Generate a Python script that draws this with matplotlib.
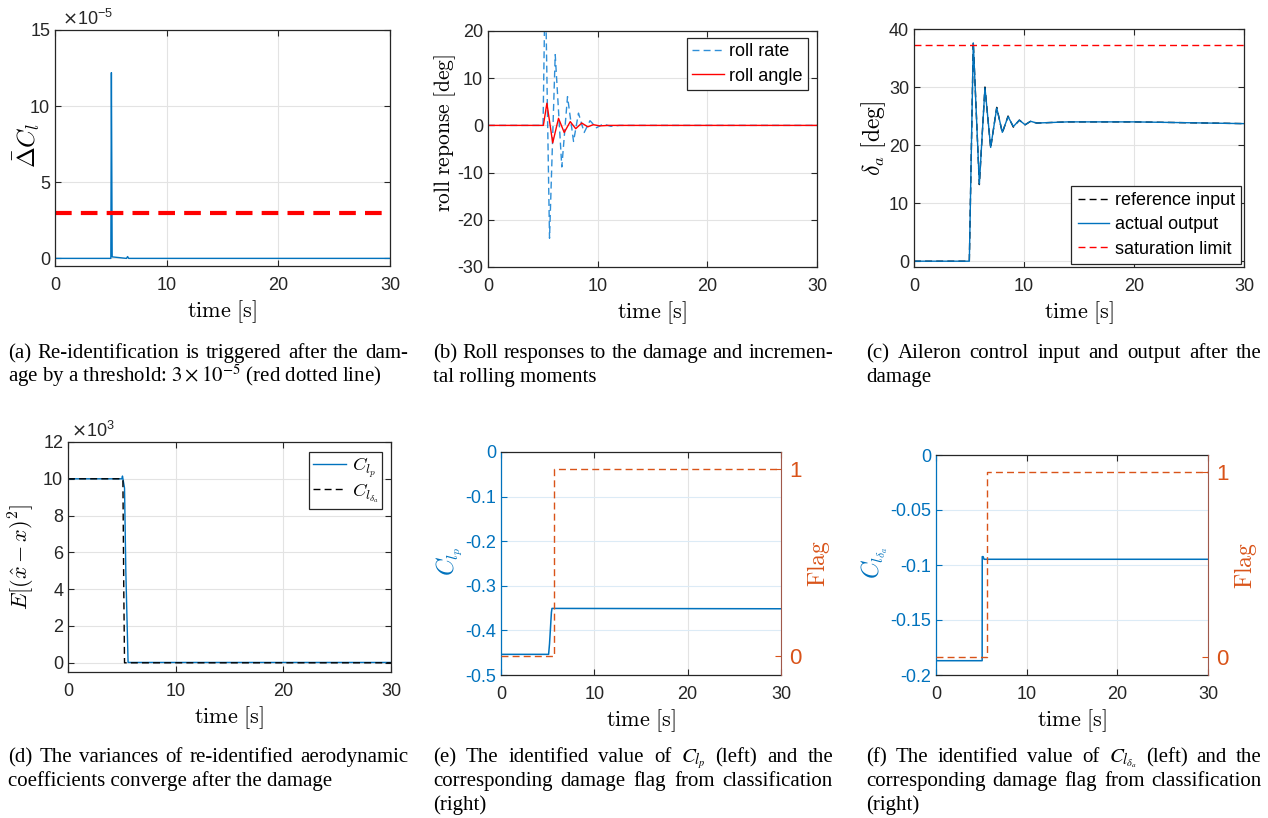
#! /usr/bin/env python3

import numpy as np
import matplotlib
matplotlib.use("Agg")
import matplotlib.pyplot as plt
from matplotlib.ticker import FormatStrFormatter

plt.rcParams['font.family'] = ['Liberation Sans', 'DejaVu Sans']
plt.rcParams['axes.unicode_minus'] = False
plt.rcParams['mathtext.fontset'] = 'cm'

BLUE = '#0072BD'
ORANGE = '#D95319'
EDGE = '#262626'

# (a) rolling moment increment, units of 1e-5
t_dcl = [0, 5.0, 5.05, 5.12, 6.4, 6.5, 6.6, 30]
dcl_e5 = [0, 0, 12.2, 0.1, 0, 0.12, 0, 0]
dcl_threshold_e5 = 3.0

# (b) roll responses [deg]
t_rate = [0, 5.02, 5.22, 5.61, 6.13, 6.73, 7.25, 7.8, 8.25, 8.77, 9.3, 9.9, 10.5, 11.2, 12, 30]
roll_rate = [0, 0, 32, -23.9, 15, -8.8, 6.1, -3.4, 2.6, -1.5, 1.0, -0.5, 0.3, -0.2, 0, 0]
t_angle = [0, 5.05, 5.37, 5.9, 6.43, 6.95, 7.5, 8.0, 8.55, 9.1, 9.6, 10.2, 11, 30]
roll_angle = [0, 0, 4.7, -3.7, 1.5, -1.5, 0.8, -0.7, 0.5, -0.3, 0.15, -0.1, 0, 0]

# (c) aileron deflection [deg]
t_ail = [0, 5.03, 5.39, 5.94, 6.45, 6.97, 7.52, 8.03, 8.55, 9.03, 9.58, 10.1, 10.6, 11.15, 14, 20, 30]
ail_ref = [0, 0, 37.7, 13.2, 30.0, 19.5, 26.5, 22.1, 25.0, 23.1, 24.3, 23.5, 24.1, 23.8, 24.0, 24.0, 23.7]
ail_out = [0, 0, 37.6, 13.3, 29.9, 19.6, 26.4, 22.2, 24.9, 23.2, 24.3, 23.5, 24.1, 23.8, 24.0, 24.0, 23.7]
ail_limit = 37.3

# (d) variances, units of 1e3
t_var_lp = [0, 5.0, 5.06, 5.25, 5.37, 5.58, 30]
var_lp = [10, 10, 10.15, 9.5, 5.0, 0.02, 0.02]
t_var_lda = [0, 5.0, 5.1, 5.18, 5.25, 30]
var_lda = [10, 10, 9.9, 4.0, 0.0, 0.0]

# (e) C_lp and flag
t_clp = [0, 5.1, 5.2, 5.4, 5.46, 30]
clp = [-0.4537, -0.4537, -0.43, -0.36, -0.3507, -0.3515]
t_flag_e = [0, 5.71, 5.71, 30]
flag_e = [0, 0, 1, 1]

# (f) C_l_delta_a and flag
t_clda = [0, 5.09, 5.1, 5.2, 5.3, 30]
clda = [-0.187, -0.187, -0.0924, -0.0924, -0.0948, -0.0948]
t_flag_f = [0, 5.64, 5.64, 30]
flag_f = [0, 0, 1, 1]

W, H = 1268, 818
fig = plt.figure(figsize=(W / 100, H / 100), dpi=100)
TICK_FS = 13


def box(l, t, r, b):
    return [l / W, 1 - b / H, (r - l) / W, (b - t) / H]


def matlab_style(ax):
    ax.grid(True, color='#E3E3E3', linewidth=0.8)
    ax.set_axisbelow(True)
    for s in ax.spines.values():
        s.set_color(EDGE)
        s.set_linewidth(0.9)
    ax.tick_params(direction='in', length=4, width=0.8, colors=EDGE,
                   labelsize=TICK_FS, top=True, right=True)
    ax.tick_params(axis='x', pad=8)
    ax.tick_params(axis='y', pad=3.5)
    ax.set_xlim(0, 30)
    ax.set_xticks([0, 10, 20, 30])
    ax.yaxis.set_major_formatter(FormatStrFormatter('%g'))


def legend(ax, **kw):
    leg = ax.legend(fancybox=False, framealpha=1, edgecolor=EDGE,
                    handletextpad=0.3, borderaxespad=0, handlelength=1.75, **kw)
    leg.get_frame().set_linewidth(0.9)
    return leg


xlab = r'$\mathrm{time\ [s]}$'
XLAB_PAD = 3

# (a)
ax = fig.add_axes(box(55, 30, 390, 266))
matlab_style(ax)
ax.plot(t_dcl, dcl_e5, color=BLUE, lw=1.0)
ax.axhline(dcl_threshold_e5, color='#FF0000', lw=3, ls=(0, (4, 2.2)))
ax.set_ylim(-0.5, 15)
ax.set_yticks([0, 5, 10, 15])
ax.set_xlabel(xlab, fontsize=16, labelpad=XLAB_PAD)
ax.set_ylabel(r'$\bar{\Delta}C_l$', fontsize=18)
ax.yaxis.set_label_coords(-0.039, 0.51)
ax.text(0.02, 1.005, r'$\times\mathregular{10^{-5}}$', transform=ax.transAxes,
        fontsize=TICK_FS, color=EDGE, va='bottom', math_fontfamily='dejavusans')

# (b)
ax = fig.add_axes(box(488, 31, 817, 267))
matlab_style(ax)
ax.plot(t_rate, roll_rate, color='#2F8FD8', lw=1.0, ls=(0, (5, 3)), label='roll rate')
ax.plot(t_angle, roll_angle, color='#FF0000', lw=1.0, label='roll angle')
ax.set_ylim(-30, 20)
ax.set_yticks([-30, -20, -10, 0, 10, 20])
ax.set_xlabel(xlab, fontsize=16, labelpad=XLAB_PAD)
ax.set_ylabel(r'$\mathrm{roll\ reponse\ [deg]}$', fontsize=15.5)
ax.yaxis.set_label_coords(-0.091, 0.57)
legend(ax, loc='upper right', fontsize=13, borderpad=0.3,
       labelspacing=0.4, bbox_to_anchor=(0.973, 0.97))

# (c)
ax = fig.add_axes(box(914, 29, 1244, 267))
matlab_style(ax)
ax.plot(t_ail, ail_ref, color='k', lw=1.0, ls=(0, (5, 3)), label='reference input')
ax.plot(t_ail, ail_out, color=BLUE, lw=1.0, label='actual output')
ax.axhline(ail_limit, color='#FF0000', lw=1.0, ls=(0, (5, 3)), label='saturation limit')
ax.set_ylim(-1, 40)
ax.set_yticks([0, 10, 20, 30, 40])
ax.set_xlabel(xlab, fontsize=16, labelpad=XLAB_PAD)
ax.set_ylabel(r'$\delta_a\ \mathrm{[deg]}$', fontsize=17)
ax.yaxis.set_label_coords(-0.079, 0.54)
legend(ax, loc='lower right', fontsize=13, borderpad=0.35,
       labelspacing=0.4, bbox_to_anchor=(0.991, 0.013))

# (d)
ax = fig.add_axes(box(68, 442, 391, 672))
matlab_style(ax)
ax.plot(t_var_lp, var_lp, color=BLUE, lw=1.0, label=r'$C_{l_p}$')
ax.plot(t_var_lda, var_lda, color='k', lw=1.0, ls=(0, (5, 3)), label=r'$C_{l_{\delta_a}}$')
ax.set_ylim(-0.5, 12)
ax.set_yticks([0, 2, 4, 6, 8, 10, 12])
ax.set_xlabel(xlab, fontsize=16, labelpad=XLAB_PAD)
ax.set_ylabel(r'$E[(\hat{x}-x)^2]$', fontsize=16)
ax.yaxis.set_label_coords(-0.096, 0.5)
ax.text(0.01, 1.005, r'$\times\mathregular{10^{3}}$', transform=ax.transAxes,
        fontsize=TICK_FS, color=EDGE, va='bottom', math_fontfamily='dejavusans')
legend(ax, loc='upper right', fontsize=13.5, borderpad=0.2,
       labelspacing=0.05, bbox_to_anchor=(0.972, 0.957))


# (e), (f)
def id_panel(rect, t, c, tf, f, ylim, yticks, ylab, lx, rx):
    ax = fig.add_axes(rect)
    matlab_style(ax)
    ax.yaxis.grid(True, color='#DCEBF6', linewidth=0.8)
    ax.tick_params(axis='y', colors=BLUE, right=False)
    ax.spines['left'].set_color(BLUE)
    ax.spines['right'].set_visible(False)
    ax.plot(t, c, color=BLUE, lw=1.1)
    ax.set_ylim(*ylim)
    ax.set_yticks(yticks)
    ax.set_xlabel(xlab, fontsize=16, labelpad=XLAB_PAD)
    ax.set_ylabel(ylab, fontsize=17, color=BLUE)
    ax.yaxis.set_label_coords(lx, 0.51)
    ax2 = ax.twinx()
    ax2.plot(tf, f, color=ORANGE, lw=1.0, ls=(0, (5, 3)))
    ax2.set_ylim(-0.1, 1.09)
    ax2.set_yticks([0, 1])
    ax2.tick_params(axis='y', direction='in', length=4, colors=ORANGE, labelsize=16, pad=6)
    ax2.spines['right'].set_color('#A0584A')
    ax2.spines['left'].set_visible(False)
    ax2.spines['top'].set_visible(False)
    ax2.spines['bottom'].set_visible(False)
    ax2.set_ylabel(r'$\mathrm{Flag}$', fontsize=17, color=ORANGE)
    ax2.yaxis.set_label_coords(rx, 0.5)
    return ax


id_panel(box(501, 452, 781, 675), t_clp, clp, t_flag_e, flag_e,
         (-0.5, 0), [-0.5, -0.4, -0.3, -0.2, -0.1, 0], r'$C_{l_p}$', -0.129, 1.086)
id_panel(box(936, 455, 1208, 675), t_clda, clda, t_flag_f, flag_f,
         (-0.2, 0), [-0.2, -0.15, -0.1, -0.05, 0], r'$C_{l_{\delta_a}}$', -0.169, 1.088)

# captions, justified like the LaTeX subcaptions
cap = dict(fontsize=15, family='Liberation Serif', color='k', va='baseline',
           math_fontfamily='stix')
captions = [
    (8, 358, 400, ['(a) Re-identification is triggered after the dam-',
                   r'age by a threshold: $3\times10^{-5}$ (red dotted line)']),
    (433, 358, 400, ['(b) Roll responses to the damage and incremen-',
                     'tal rolling moments']),
    (866, 358, 396, ['(c) Aileron control input and output after the',
                     'damage']),
    (8, 762, 400, ['(d) The variances of re-identified aerodynamic',
                   'coefficients converge after the damage']),
    (433, 762, 400, [r'(e) The identified value of $C_{l_p}$ (left) and the',
                     'corresponding damage flag from classification',
                     '(right)']),
    (866, 762, 396, [r'(f) The identified value of $C_{l_{\delta_a}}$ (left) and the',
                     'corresponding damage flag from classification',
                     '(right)']),
]
renderer = fig.canvas.get_renderer()
for x0, y0, width, lines in captions:
    for i, s in enumerate(lines):
        y = 1 - (y0 + 24 * i) / H
        if i == len(lines) - 1:
            fig.text(x0 / W, y, s, **cap)
            continue
        words = s.split(' ')
        texts = [fig.text(0, y, w, **cap) for w in words]
        widths = [t.get_window_extent(renderer).width for t in texts]
        gap = (width - sum(widths)) / (len(words) - 1)
        x = x0
        for t, w in zip(texts, widths):
            t.set_x(x / W)
            x += w + gap

fig.savefig('out.png', dpi=100)
